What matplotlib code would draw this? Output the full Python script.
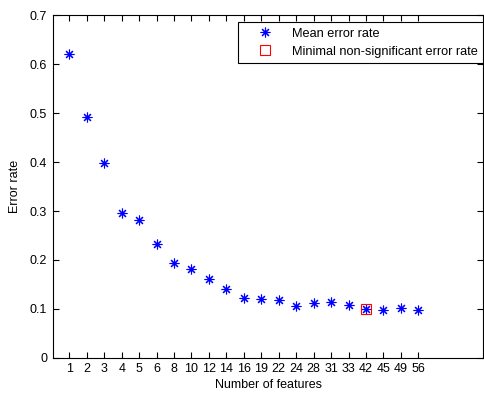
import matplotlib.pyplot as plt
import numpy as np

plt.rcParams['font.family'] = ['Liberation Sans', 'DejaVu Sans']
plt.rcParams['font.size'] = 9

n_features = [1, 2, 3, 4, 5, 6, 8, 10, 12, 14, 16, 19, 22, 24, 28, 31, 33, 42, 45, 49, 56]
mean_error = [0.621, 0.493, 0.399, 0.296, 0.281, 0.233, 0.194, 0.181, 0.161, 0.141,
              0.122, 0.121, 0.118, 0.106, 0.111, 0.114, 0.108, 0.100, 0.097, 0.102, 0.097]
best_idx = 17  # 42 features

pos = np.arange(1, len(n_features) + 1)

fig = plt.figure(figsize=(4.84, 3.94), dpi=100)
ax = fig.add_axes([0.109, 0.092, 0.8895, 0.869])

ax.plot(pos, mean_error, linestyle='none', marker=(8, 2, 0), markersize=7,
        markeredgewidth=0.8, color='#0000ff', label='Mean error rate')
ax.plot(pos[best_idx], mean_error[best_idx], linestyle='none', marker='s', markersize=6.5,
        markerfacecolor='none', markeredgecolor='#ff0000', markeredgewidth=0.8,
        label='Minimal non-significant error rate')

ax.set_xlim(0.05, 24.72)
ax.set_ylim(0, 0.7)
ax.set_xticks(pos)
ax.set_xticklabels([str(n) for n in n_features])
ax.set_yticks(np.arange(0, 0.71, 0.1))
ax.set_yticklabels(['0', '0.1', '0.2', '0.3', '0.4', '0.5', '0.6', '0.7'])
ax.tick_params(direction='in', top=True, right=True, length=4, width=0.8, pad=4)
for s in ax.spines.values():
    s.set_linewidth(0.8)

ax.set_xlabel('Number of features', labelpad=3)
ax.set_ylabel('Error rate', labelpad=6)

leg = ax.legend(loc='upper right', bbox_to_anchor=(1.0, 0.98), borderaxespad=0,
                fancybox=False, edgecolor='black', framealpha=1, borderpad=0.42,
                handlelength=3.4, handletextpad=0.4, labelspacing=0.5,
                prop={'size': 9.2})
leg.get_frame().set_linewidth(0.8)

fig.savefig('out.png', dpi=100)
